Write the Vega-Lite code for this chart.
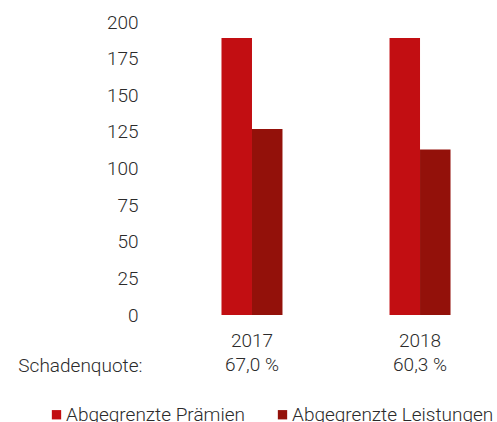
{
  "$schema": "https://vega.github.io/schema/vega-lite/v6.json",
  "width": 347,
  "height": 293,
  "autosize": {"type": "none"},
  "padding": {"left": 150, "top": 22, "right": 0, "bottom": 107},
  "background": "white",
  "config": {
    "view": {"stroke": null},
    "font": "Roboto",
    "axis": {"grid": false, "domain": false, "ticks": false, "labelFont": "Roboto", "labelFontSize": 19, "labelColor": "#2b2b2b", "labelFontWeight": 300, "labelOverlap": false},
    "legend": {"labelFont": "Roboto", "labelFontSize": 19, "labelColor": "#2b2b2b", "labelFontWeight": 300, "labelLimit": 400}
  },
  "layer": [
    {
      "data": {"values": [
        {"year": "2017", "series": "Abgegrenzte Prämien", "value": 189},
        {"year": "2017", "series": "Abgegrenzte Leistungen", "value": 127},
        {"year": "2018", "series": "Abgegrenzte Prämien", "value": 189},
        {"year": "2018", "series": "Abgegrenzte Leistungen", "value": 113}
      ]},
      "mark": {"type": "bar"},
      "encoding": {
        "x": {"field": "year", "type": "nominal",
          "scale": {"paddingInner": 0.637, "paddingOuter": 0.351, "align": 0.606},
          "axis": {"labelAngle": 0, "labelPadding": 16, "title": "Schadenquote:", "titleX": -8, "titleY": 56, "titleAlign": "right", "titleBaseline": "alphabetic", "titleAnchor": "start", "titleFont": "Roboto", "titleFontSize": 19, "titleFontWeight": 300, "titleColor": "#2b2b2b"}},
        "xOffset": {"field": "series", "type": "nominal",
          "scale": {"domain": ["Abgegrenzte Prämien", "Abgegrenzte Leistungen"], "paddingInner": 0, "paddingOuter": 0}},
        "y": {"field": "value", "type": "quantitative",
          "scale": {"domain": [0, 200], "nice": false},
          "axis": {"values": [0, 25, 50, 75, 100, 125, 150, 175, 200], "labelOverlap": false, "labelPadding": 12, "title": null}},
        "color": {"field": "series", "type": "nominal",
          "scale": {"domain": ["Abgegrenzte Prämien", "Abgegrenzte Leistungen"], "range": ["#C20E12", "#93110A"]},
          "legend": {"title": null, "orient": "none", "direction": "horizontal", "legendX": -103, "legendY": 383, "symbolType": "square", "symbolSize": 87, "symbolOpacity": 1, "symbolStrokeWidth": 0, "labelOffset": 0, "columnPadding": 28, "padding": 0}}
      }
    },
    {
      "data": {"values": [
        {"year": "2017", "quote": "67,0 %"},
        {"year": "2018", "quote": "60,3 %"}
      ]},
      "mark": {"type": "text", "font": "Roboto", "fontSize": 19, "fontWeight": 300, "color": "#2b2b2b", "baseline": "alphabetic", "align": "center", "dy": 56},
      "encoding": {
        "x": {"field": "year", "type": "nominal",
          "axis": {"labelAngle": 0, "labelPadding": 16, "title": "Schadenquote:", "titleX": -8, "titleY": 56, "titleAlign": "right", "titleBaseline": "alphabetic", "titleAnchor": "start", "titleFont": "Roboto", "titleFontSize": 19, "titleFontWeight": 300, "titleColor": "#2b2b2b"}},
        "y": {"datum": 0, "type": "quantitative",
          "axis": {"values": [0, 25, 50, 75, 100, 125, 150, 175, 200], "labelOverlap": false, "labelPadding": 12, "title": null}},
        "text": {"field": "quote"}
      }
    }
  ]
}
